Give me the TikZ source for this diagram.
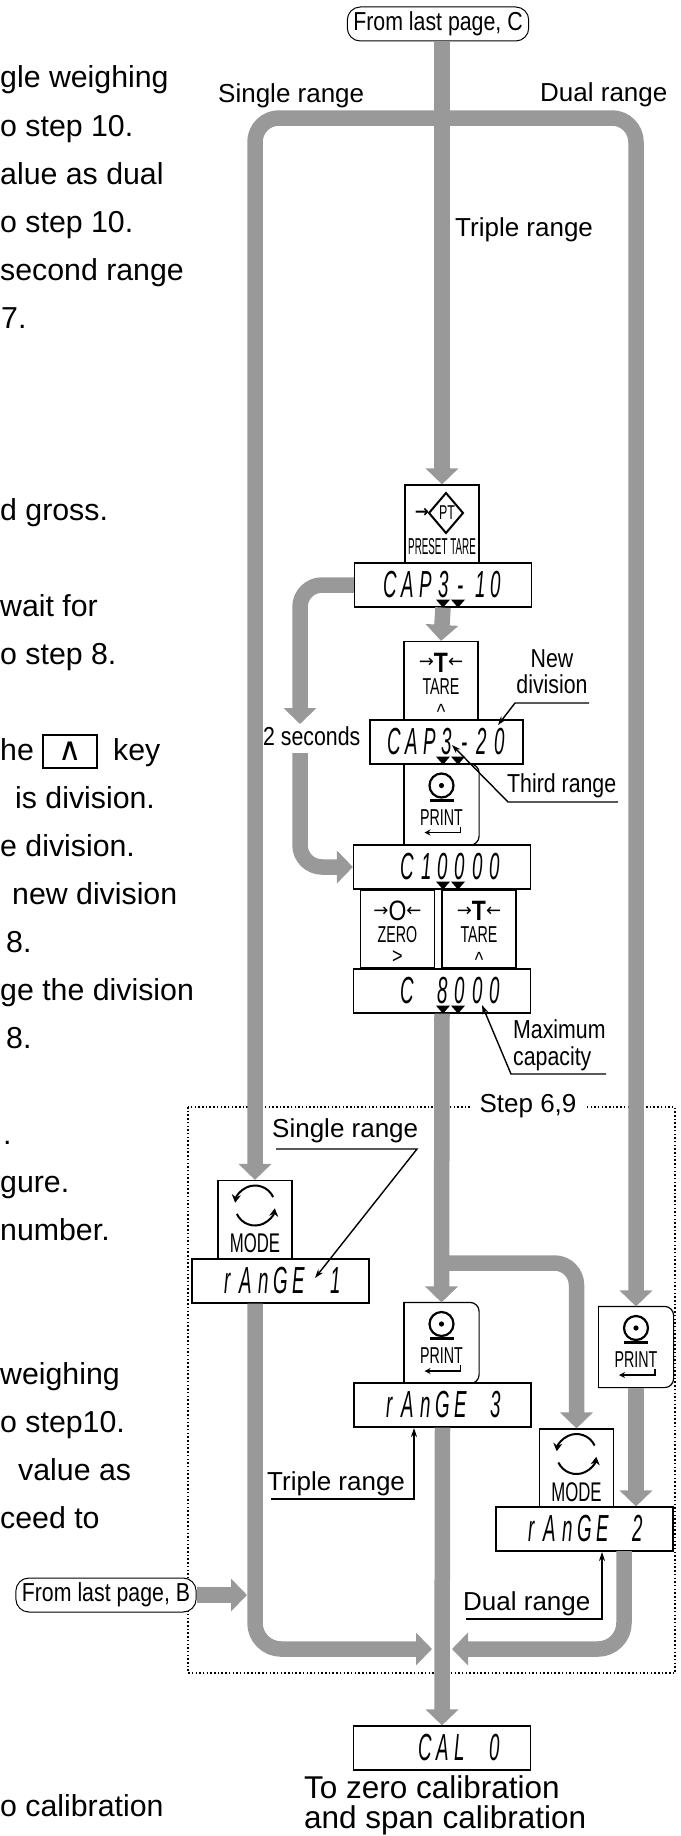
\documentclass[tikz,border=0pt]{standalone}
\usepackage{amsmath, amssymb}
\usepackage{graphicx}
\usepackage{fontspec}
\setmainfont{Liberation Sans}
\newfontfamily\narrowfont[FakeStretch=0.82]{Liberation Sans}
\newfontfamily\keyfont[FakeStretch=0.62]{Liberation Sans}
\newfontfamily\segfont[FakeStretch=0.72]{Liberation Sans}
\newfontfamily\arwfont{DejaVu Sans}
\usepackage{tikz}
\usetikzlibrary{arrows.meta}

\definecolor{flowgray}{RGB}{153,153,153}
\newcommand{\paratxt}{\fontsize{30.3pt}{31pt}\selectfont}
\newcommand{\lbltxt}{\fontsize{26pt}{27pt}\selectfont}
\newcommand{\nlbltxt}{\narrowfont\fontsize{26pt}{27pt}\selectfont}
\newcommand{\keytxt}{\keyfont\fontsize{23pt}{23pt}\selectfont}
\newcommand{\segcells}[1]{\ifx\relax#1\else\ifx1#1\makebox[17.6pt][r]{1\hspace{1.5pt}}\else\makebox[17.6pt]{#1}\fi\expandafter\segcells\fi}
\newcommand{\seg}[1]{\scalebox{1}[1.45]{\segfont\itshape\fontsize{26pt}{26pt}\selectfont\segcells#1\relax}}
\newcommand{\dmarks}[2]{\foreach \dx in {0,15}{\fill ([xshift=#2pt]#1.south) ++(\dx,0) -- ++(-7,-8) -- ++(14,0) -- cycle;}}
\newcommand{\printedge}[1]{\draw[line width=1.2pt, line cap=rect, rounded corners=9pt] (#1.north west) -- (#1.north east) -- (#1.south east) -- (#1.south west); \draw[line width=1.2pt, line cap=rect] (#1.south west) -- (#1.north west);}

\tikzset{
  flow/.style={draw=flowgray, line width=15.5pt, -{Triangle[width=32pt,length=16pt]}},
  disp/.style={draw, fill=white, line width=1.2pt, minimum width=177pt, minimum height=44pt, inner sep=0pt, text width=124pt, align=right},
  keybox/.style={draw, fill=white, line width=1.2pt, minimum width=74pt, minimum height=78pt, inner sep=0pt},
  pill/.style={draw, fill=white, line width=1pt, rounded corners=13pt, inner xsep=6pt, minimum height=34pt, font=\nlbltxt},
  lbl/.style={anchor=base west, inner sep=0pt, font=\lbltxt},
  nlbl/.style={anchor=base west, inner sep=0pt, font=\nlbltxt},
  ptxt/.style={anchor=base west, inner sep=0pt, font=\paratxt},
  leader/.style={line width=1.4pt, -{Stealth[length=9pt,width=6pt]}},
  tareface/.pic={
    \node at (0,-18) {\arwfont\fontsize{18pt}{18pt}\selectfont\raisebox{4.5pt}{→}{\narrowfont\bfseries\fontsize{28pt}{28pt}\selectfont T}\raisebox{4.5pt}{←}};
    \node at (0,6) {\keytxt TARE};
    \node at (0,31) {\narrowfont\fontsize{22pt}{22pt}\selectfont\textasciicircum};
  },
  zeroface/.pic={
    \node at (0,-18) {\arwfont\fontsize{18pt}{18pt}\selectfont\raisebox{4.5pt}{→}{\narrowfont\fontsize{28pt}{28pt}\selectfont O}\raisebox{4.5pt}{←}};
    \node at (0,6) {\keytxt ZERO};
    \node at (0,28) {\narrowfont\fontsize{22pt}{22pt}\selectfont\textgreater};
  },
  printface/.pic={
    \draw[line width=2.2pt] (0,-19) circle (12);
    \fill (0,-19) circle (2.6);
    \fill (-12,-6) rectangle (12,-3);
    \node at (0,13) {\keytxt PRINT};
    \draw[line width=1.8pt, -{Stealth[length=6pt,width=6pt]}] (19,22) -- (19,28) -- (-17,28);
  },
  modeface/.pic={
    \begin{scope}[yscale=-1]
      \draw[line width=2pt, -{Stealth[length=8pt,width=9pt]}] (0,14) ++(25:20) arc[start angle=25, end angle=172, radius=20];
      \draw[line width=2pt, -{Stealth[length=8pt,width=9pt]}] (0,14) ++(205:20) arc[start angle=205, end angle=352, radius=20];
    \end{scope}
    \node at (0,24) {\keyfont\fontsize{27pt}{27pt}\selectfont MODE};
  },
  ptface/.pic={
    \draw[line width=2pt] (4,-31) -- (21,-11) -- (4,9) -- (-13,-11) -- cycle;
    \node at (5,-11) {\keyfont\fontsize{20pt}{20pt}\selectfont PT};
    \node at (-20,-11) {\arwfont\bfseries\fontsize{17pt}{17pt}\selectfont →};
    \node at (0,23) {\scalebox{0.69}[1]{\keytxt PRESET TARE}};
  }
}

\begin{document}
\begin{tikzpicture}[x=1pt, y=-1pt, >=stealth]
\useasboundingbox (0,0) rectangle (680,1836);

\node (p1) at (0,88) [ptxt] {gle weighing};
\node (p2) at (0,136) [ptxt] {o step 10.};
\node (p3) at (0,184) [ptxt] {alue as dual};
\node (p4) at (0,232) [ptxt] {o step 10.};
\node (p5) at (0,280) [ptxt] {second range};
\node (p6) at (1,328) [ptxt] {7.};
\node (p7) at (0,520) [ptxt] {d gross.};
\node (p8) at (0,616) [ptxt] {wait for};
\node (p9) at (0,664) [ptxt] {o step 8.};
\node (p10) at (0,760) [ptxt] {he};
\node (upkey) at (70,751.5) [draw, line width=1.5pt, minimum width=54pt, minimum height=33pt, inner sep=0pt] {\arwfont\fontsize{32pt}{32pt}\selectfont ∧};
\node (p10b) at (113,760) [ptxt] {key};
\node (p11) at (15,808) [ptxt] {is division.};
\node (p12) at (0,856) [ptxt] {e division.};
\node (p13) at (12,904) [ptxt] {new division};
\node (p14) at (6,952) [ptxt] {8.};
\node (p15) at (0,1000) [ptxt] {ge the division};
\node (p16) at (6,1048) [ptxt] {8.};
\node (p17) at (3,1144) [ptxt] {.};
\node (p18) at (0,1192) [ptxt] {gure.};
\node (p19) at (0,1240) [ptxt] {number.};
\node (p20) at (0,1384) [ptxt] {weighing};
\node (p21) at (0,1432) [ptxt] {o step10.};
\node (p22) at (18,1480) [ptxt] {value as};
\node (p23) at (0,1528) [ptxt] {ceed to};
\node (p24) at (0,1816) [ptxt] {o calibration};

\draw[line width=1.5pt, dash pattern=on 1.5pt off 2.2pt] (188,1107) rectangle (675,1673);
\node (step) at (528,1106) [fill=white, inner xsep=9pt, inner ysep=2pt, font=\lbltxt] {Step 6,9};

\node (pillC) at (438,24) [pill] {From last page, C};
\node (pillB) at (106,1595) [pill] {From last page, B};

\node (ptkey) at (442,524) [keybox] {};
\pic at (ptkey) {ptface};
\node (cap10) at (443,585) [disp] {\seg{CAP3-10}};
\dmarks{cap10}{0}
\node (tareA) at (441,680.5) [keybox] {};
\pic at (tareA) {tareface};
\node (cap20) at (446.5,742) [disp, minimum width=153pt] {\seg{CAP3-20}};
\dmarks{cap20}{-3.5}
\node (printA) at (441.5,804.5) [keybox, draw=none, minimum height=80pt] {};
\printedge{printA}
\pic at (printA) {printface};
\node (c10000) at (442,867) [disp] {\seg{C10000}};
\dmarks{c10000}{1}
\node (zeroK) at (397.5,929) [keybox] {};
\pic at (zeroK) {zeroface};
\node (tareB) at (479,929) [keybox] {};
\pic at (tareB) {tareface};
\node (c8000) at (442,991) [disp] {\seg{C~8000}};
\dmarks{c8000}{1}

\node (modeA) at (255,1219.5) [keybox] {};
\pic at (modeA) {modeface};
\node (range1) at (280.5,1281) [disp] {\seg{rAnGE~1}};
\node (printM) at (441.5,1343) [keybox, draw=none, minimum height=80pt] {};
\printedge{printM}
\pic at (printM) {printface};
\node (range3) at (442.5,1405) [disp] {\seg{rAnGE~3}};
\node (printR) at (636,1347) [keybox, draw=none, minimum height=80pt] {};
\printedge{printR}
\pic at (printR) {printface};
\node (modeB) at (576.5,1468) [keybox] {};
\pic at (modeB) {modeface};
\node (range2) at (584.5,1529) [disp] {\seg{rAnGE~2}};
\node (cal) at (442,1748) [disp] {\seg{CAL~0}};

\node (single) at (218,102) [lbl] {Single range};
\node (dual) at (540,101) [lbl] {Dual range};
\node (triple) at (455,236) [lbl] {Triple range};
\node (twosec) at (263,745) [nlbl] {2 seconds};
\node (newA) at (552,667) [nlbl, anchor=base] {New};
\node (newB) at (552,693) [nlbl, anchor=base] {division};
\node (third) at (507,792) [nlbl] {Third range};
\node (maxA) at (513,1038) [nlbl] {Maximum};
\node (maxB) at (513,1065) [nlbl] {capacity};
\node (singleB) at (272,1137) [lbl] {Single range};
\node (tripleB) at (267,1490) [lbl] {Triple range};
\node (dualB) at (463,1610) [lbl] {Dual range};
\node (tozeroA) at (304,1798) [anchor=base west, inner sep=0pt, font=\fontsize{31.5pt}{30pt}\selectfont] {To zero calibration};
\node (tozeroB) at (304,1828) [anchor=base west, inner sep=0pt, font=\fontsize{31.5pt}{30pt}\selectfont] {and span calibration};

\coordinate (newU1) at (589,703);
\coordinate (newU2) at (515,703);
\coordinate (newT) at (498,725);
\coordinate (thirdU1) at (618,802);
\coordinate (thirdU2) at (508,802);
\coordinate (thirdT) at (452,745);
\coordinate (maxU1) at (606,1074);
\coordinate (maxU2) at (511,1074);
\coordinate (maxT) at (482,1005);
\coordinate (singleU1) at (276,1149);
\coordinate (singleU2) at (417,1149);
\coordinate (singleT) at (315,1278);
\coordinate (tripleU1) at (271,1499);
\coordinate (tripleU2) at (414,1499);
\coordinate (tripleT) at (414,1428);
\coordinate (dualU1) at (466,1619);
\coordinate (dualU2) at (602,1619);
\coordinate (dualT) at (602,1552);
\draw[leader] (newU1) -- (newU2) -- (newT);
\draw[leader] (thirdU1) -- (thirdU2) -- (thirdT);
\draw[leader] (maxU1) -- (maxU2) -- (maxT);
\draw[leader] (singleU1) -- (singleU2) -- (singleT);
\draw[leader] (tripleU1) -- (tripleU2) -- (tripleT);
\draw[leader] (dualU1) -- (dualU2) -- (dualT);

\coordinate (bar) at (442,118);
\coordinate (lp1) at (300,724);
\coordinate (lp2) at (300,753);
\coordinate (br) at (442,1263);
\coordinate (jl) at (432,1649);
\coordinate (jr) at (452,1649);
\coordinate (rd) at (624,1551);
\coordinate (bin) at (247,1595);
\draw[flow] (pillC.south -| bar) -- (ptkey.north);
\draw[flow, rounded corners=24pt] (bar) -| (modeA.north);
\draw[flow, rounded corners=24pt] (bar) -| (printR.north);
\draw[flow] (cap10.south) -- (tareA.north);
\draw[flow, rounded corners=22pt] (cap10.west) -| (lp1);
\draw[flow, rounded corners=22pt] (lp2) |- (c10000.west);
\draw[flow] (c8000.south) -- (printM.north);
\draw[flow, rounded corners=22pt] (br) -| (modeB.north);
\draw[flow] (printR.south) -- (printR.south |- range2.north);
\draw[flow] (range3.south) -- (cal.north);
\draw[flow, rounded corners=26pt] (modeA.south |- range1.south) |- (jl);
\draw[flow, rounded corners=26pt] (rd) |- (jr);
\draw[flow] (pillB.east) -- (bin);
\end{tikzpicture}
\end{document}
